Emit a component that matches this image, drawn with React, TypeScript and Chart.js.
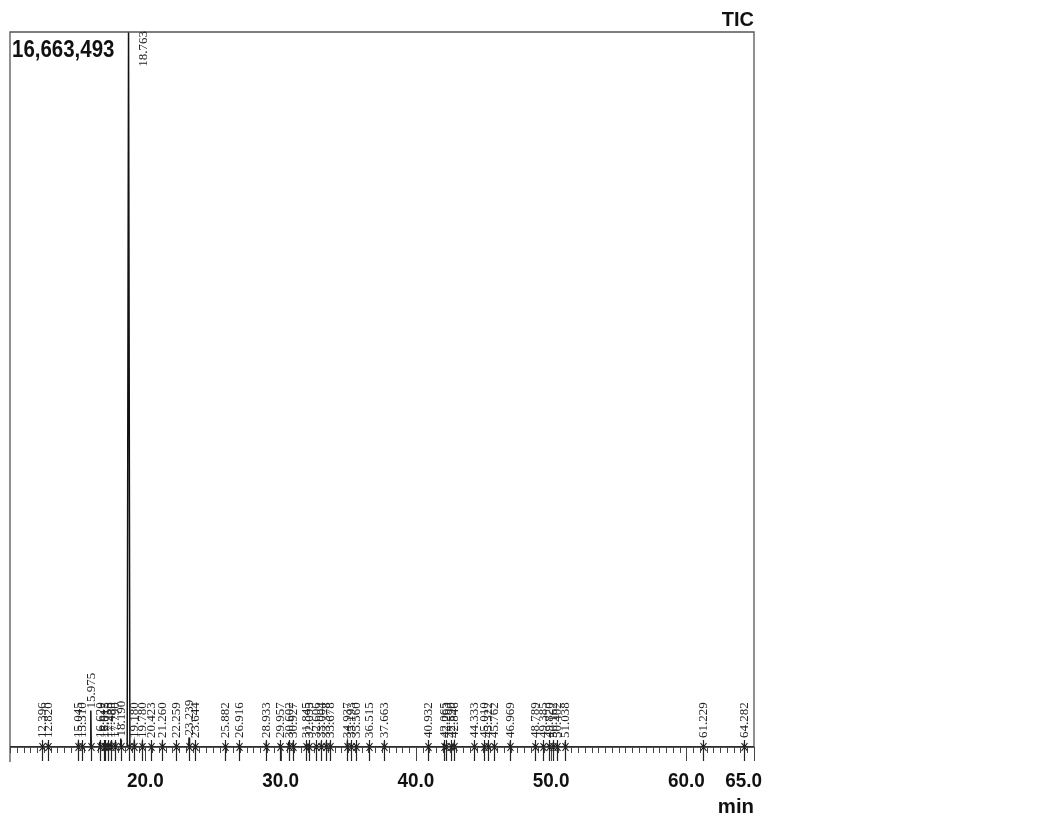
import React, { useEffect, useRef } from "react";
import { Chart, registerables } from "chart.js";

Chart.register(...registerables);

// ---- data ----
const peakTimes: number[] = [
  12.396, 12.82, 15.045, 15.31, 15.975, 16.62, 16.912, 17.015, 17.255, 17.48,
  17.79, 18.19, 18.763, 19.18, 19.78, 20.423, 21.26, 22.259, 23.239, 23.644,
  25.882, 26.916, 28.933, 29.957, 30.602, 30.927, 31.845, 32.095, 32.606,
  33.004, 33.378, 33.678, 34.937, 35.193, 35.56, 36.515, 37.663, 40.932,
  42.065, 42.263, 42.59, 42.846, 44.333, 45.01, 45.322, 45.762, 46.969,
  48.789, 49.385, 49.82, 50.162, 50.402, 51.038, 61.229, 64.282,
];
const peakHeights: number[] = [
  60000, 50000, 70000, 60000, 850000, 120000, 90000, 150000, 100000, 130000,
  110000, 200000, 16663493, 90000, 80000, 60000, 70000, 60000, 220000, 60000,
  50000, 60000, 60000, 70000, 120000, 60000, 60000, 60000, 50000,
  60000, 70000, 60000, 90000, 60000, 50000, 60000, 60000, 60000,
  70000, 60000, 60000, 70000, 60000, 60000, 60000, 60000, 60000,
  60000, 60000, 60000, 60000, 60000, 60000, 50000, 50000,
];
const peakLabels: string[] = peakTimes.map((t) => t.toFixed(3));
const majorTicks: number[] = [20, 30, 40, 50, 60, 65];
const majorTickLabels: string[] = ["20.0", "30.0", "40.0", "50.0", "60.0", "65.0"];
const minorTickStep = 0.5;
const xMin = 10;
const xMax = 65;
const yMax = 16663493;
const yMaxLabel = "16,663,493";
const titleText = "TIC";
const xUnitText = "min";

function buildPoints() {
  const pts: { x: number; y: number }[] = [{ x: xMin, y: 0 }];
  peakTimes.forEach((t, i) => {
    const h = peakHeights[i];
    const w = h > yMax * 0.5 ? 0.1 : 0.03;
    pts.push({ x: t - w, y: 0 }, { x: t, y: h }, { x: t + w, y: 0 });
  });
  pts.push({ x: xMax, y: 0 });
  return pts;
}

function drawScaledText(
  ctx: CanvasRenderingContext2D,
  text: string,
  x: number,
  y: number,
  sx: number,
  align: "left" | "right" | "center"
) {
  ctx.save();
  ctx.translate(x, y);
  ctx.scale(sx, 1);
  ctx.textAlign = align;
  ctx.fillText(text, 0, 0);
  ctx.restore();
}

const decorPlugin = {
  id: "chromDecor",
  afterDraw(chart: any) {
    const ctx: CanvasRenderingContext2D = chart.ctx;
    const xs = chart.scales.x;
    const ys = chart.scales.y;
    const { left, right, top, bottom } = chart.chartArea;
    const base = ys.getPixelForValue(0);
    ctx.save();

    // frame
    ctx.strokeStyle = "#555";
    ctx.lineWidth = 1.3;
    ctx.beginPath();
    ctx.moveTo(left, bottom + 15);
    ctx.lineTo(left, top);
    ctx.lineTo(right, top);
    ctx.lineTo(right, bottom);
    ctx.stroke();
    ctx.strokeStyle = "#222";
    ctx.beginPath();
    ctx.moveTo(left, base);
    ctx.lineTo(right, base);
    ctx.stroke();

    // ticks
    ctx.strokeStyle = "#444";
    ctx.lineWidth = 1;
    for (let v = xMin; v <= xMax + 1e-6; v += minorTickStep) {
      const px = Math.round(xs.getPixelForValue(v)) + 0.5;
      const isMajor = majorTicks.some((m) => Math.abs(m - v) < 1e-6);
      ctx.beginPath();
      ctx.moveTo(px, base);
      ctx.lineTo(px, base + (isMajor ? 14 : 6));
      ctx.stroke();
    }

    // tick labels
    ctx.fillStyle = "#111";
    ctx.font = "bold 21px 'Liberation Sans', Arial, sans-serif";
    ctx.textBaseline = "alphabetic";
    majorTicks.forEach((v, i) => {
      const px = xs.getPixelForValue(v);
      if (v >= xMax) {
        drawScaledText(ctx, majorTickLabels[i], px + 8, bottom + 40, 0.9, "right");
      } else {
        drawScaledText(ctx, majorTickLabels[i], px, bottom + 40, 0.9, "center");
      }
    });

    // unit
    drawScaledText(ctx, xUnitText, right, bottom + 66, 0.97, "right");
    // title
    drawScaledText(ctx, titleText, right, top - 6, 0.95, "right");
    // y max label
    ctx.font = "bold 23px 'Liberation Sans', Arial, sans-serif";
    drawScaledText(ctx, yMaxLabel, left + 2, top + 25, 0.89, "left");

    // peak markers and labels
    ctx.font = "13px 'Liberation Serif', 'Times New Roman', serif";
    peakTimes.forEach((t, i) => {
      const px = Math.round(xs.getPixelForValue(t)) + 0.5;
      ctx.strokeStyle = "#222";
      ctx.lineWidth = 1.2;
      ctx.beginPath();
      ctx.moveTo(px, base - 7);
      ctx.lineTo(px, base + 14);
      ctx.moveTo(px - 3, base - 4);
      ctx.lineTo(px + 3, base + 4);
      ctx.moveTo(px + 3, base - 4);
      ctx.lineTo(px - 3, base + 4);
      ctx.stroke();

      const label = peakLabels[i];
      const tw = ctx.measureText(label).width;
      const peakTop = ys.getPixelForValue(peakHeights[i]);
      let ly = Math.min(peakTop - 2, base - 9);
      let lx = px;
      if (ly - tw < top) {
        ly = top - 1 + tw;
        lx = px + 14;
      }
      ctx.save();
      ctx.translate(lx, ly);
      ctx.rotate(-Math.PI / 2);
      ctx.fillStyle = "#222";
      ctx.textAlign = "left";
      ctx.textBaseline = "middle";
      ctx.fillText(label, 0, 0);
      ctx.restore();
    });

    ctx.restore();
  },
};

export default function App() {
  const canvasRef = useRef<HTMLCanvasElement | null>(null);

  useEffect(() => {
    const canvas = canvasRef.current;
    if (!canvas) return;
    const chart = new Chart(canvas, {
      type: "line",
      data: {
        datasets: [
          {
            data: buildPoints(),
            borderColor: "#111",
            borderWidth: 1.5,
            pointRadius: 0,
            tension: 0,
            fill: false,
          },
        ],
      },
      options: {
        responsive: false,
        animation: false,
        parsing: false as any,
        layout: { padding: { left: 10, right: 299, top: 32, bottom: 71 } },
        plugins: { legend: { display: false }, tooltip: { enabled: false } },
        scales: {
          x: { type: "linear", min: xMin, max: xMax, display: false },
          y: { type: "linear", min: 0, max: yMax, display: false },
        },
      },
      plugins: [decorPlugin],
    });
    return () => chart.destroy();
  }, []);

  return (
    <div style={{ position: "fixed", left: 0, top: 0, width: 1053, height: 818, background: "#fff" }}>
      <canvas ref={canvasRef} width={1053} height={818} style={{ width: 1053, height: 818 }} />
    </div>
  );
}
